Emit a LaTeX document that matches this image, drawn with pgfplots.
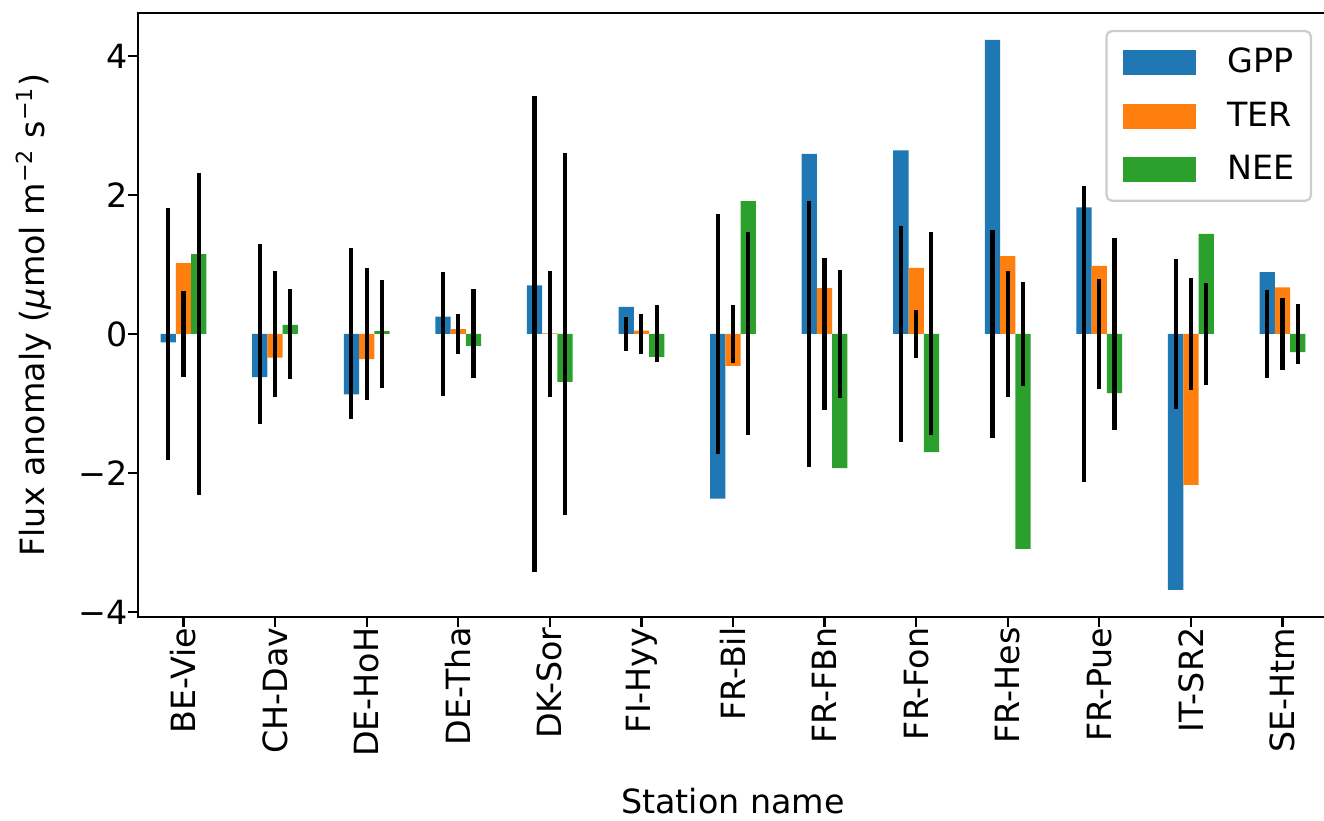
\documentclass[border=0pt]{standalone}
\usepackage{fontspec}
\setmainfont{DejaVu Sans}
\usepackage{pgfplots}
\usepackage{pgfplotstable}
\pgfplotsset{compat=1.18}
\definecolor{tabblue}{HTML}{1F77B4}
\definecolor{taborange}{HTML}{FF7F0E}
\definecolor{tabgreen}{HTML}{2CA02C}

\pgfplotstableread{
idx gpp gppe ter tere nee neee
0 -0.12 1.81 1.02 0.62 1.15 2.31
1 -0.62 1.29 -0.34 0.91 0.13 0.65
2 -0.87 1.23 -0.36 0.95 0.04 0.78
3 0.25 0.89 0.07 0.29 -0.17 0.64
4 0.70 3.43 0.01 0.91 -0.69 2.61
5 0.39 0.25 0.05 0.29 -0.33 0.41
6 -2.37 1.72 -0.46 0.42 1.91 1.46
7 2.59 1.91 0.66 1.10 -1.93 0.92
8 2.64 1.56 0.95 0.34 -1.70 1.46
9 4.23 1.49 1.12 0.91 -3.09 0.75
10 1.82 2.13 0.98 0.79 -0.85 1.38
11 -3.68 1.08 -2.17 0.81 1.44 0.74
12 0.89 0.635 0.67 0.515 -0.26 0.435
}\data

\begin{document}
\begin{tikzpicture}[font=\fontsize{12}{14.4}\selectfont]
\begin{axis}[
  at={(0,0)}, anchor=south west,
  scale only axis, width=428.6pt, height=217.66pt,
  xmin=-0.5, xmax=12.5, ymin=-4.076, ymax=4.622,
  xtick={0,1,2,3,4,5,6,7,8,9,10,11,12},
  xticklabels={BE-Vie,CH-Dav,DE-HoH,DE-Tha,DK-Sor,FI-Hyy,FR-Bil,FR-FBn,FR-Fon,FR-Hes,FR-Pue,IT-SR2,SE-Htm},
  ytick={-4,-2,0,2,4},
  yticklabels={−4,−2,0,2,4},
  tick align=outside, tick pos=left,
  major tick length=3.5pt,
  every tick/.style={black, line width=0.8pt},
  axis line style={line width=0.8pt},
  xticklabel style={rotate=90, anchor=east, inner sep=0pt},
  yticklabel style={inner sep=0pt},
  every axis x label/.style={at={(axis description cs:0.5,-0.3244)}, anchor=base},
  every axis y label/.style={at={(axis description cs:-0.0779,0.5)}, rotate=90, anchor=base},
  xlabel={Station name},
  ylabel={Flux anomaly (\textit{μ}mol m\textsuperscript{−2} s\textsuperscript{−1})},
  mybar/.style={ybar, bar width=0.16667, bar shift=0pt, draw=none,
    legend image code/.code={\fill[##1, draw=none, sharp corners] (0pt,-4.5pt) rectangle (26.3pt,4.5pt);}},
  errb/.style={forget plot, draw=none, mark=none,
    error bars/.cd, y dir=both, y explicit, error mark=none,
    error bar style={draw=black, line width=1.5pt}},
  legend cell align=left,
  legend style={at={(1,1)}, anchor=north east, xshift=-5.8pt, yshift=-6.2pt,
    draw=black!20, line width=0.8pt, rounded corners=2pt, fill=white,
    inner xsep=6pt, inner ysep=6pt, row sep=9.1pt, column sep=11.2pt,
    nodes={inner sep=0pt}},
]
\addplot[mybar, fill=tabblue] table[x expr=\thisrow{idx}-0.16667, y=gpp] {\data};
\addplot[mybar, fill=taborange] table[x expr=\thisrow{idx}, y=ter] {\data};
\addplot[mybar, fill=tabgreen] table[x expr=\thisrow{idx}+0.16667, y=nee] {\data};
\addplot[errb] table[x expr=\thisrow{idx}-0.16667, y expr=0, y error=gppe] {\data};
\addplot[errb] table[x expr=\thisrow{idx}, y expr=0, y error=tere] {\data};
\addplot[errb] table[x expr=\thisrow{idx}+0.16667, y expr=0, y error=neee] {\data};
\legend{GPP,TER,NEE}
\end{axis}
\pgfresetboundingbox
\useasboundingbox (-49.57pt,-72.97pt) rectangle (427.07pt,222.23pt);
\end{tikzpicture}
\end{document}
